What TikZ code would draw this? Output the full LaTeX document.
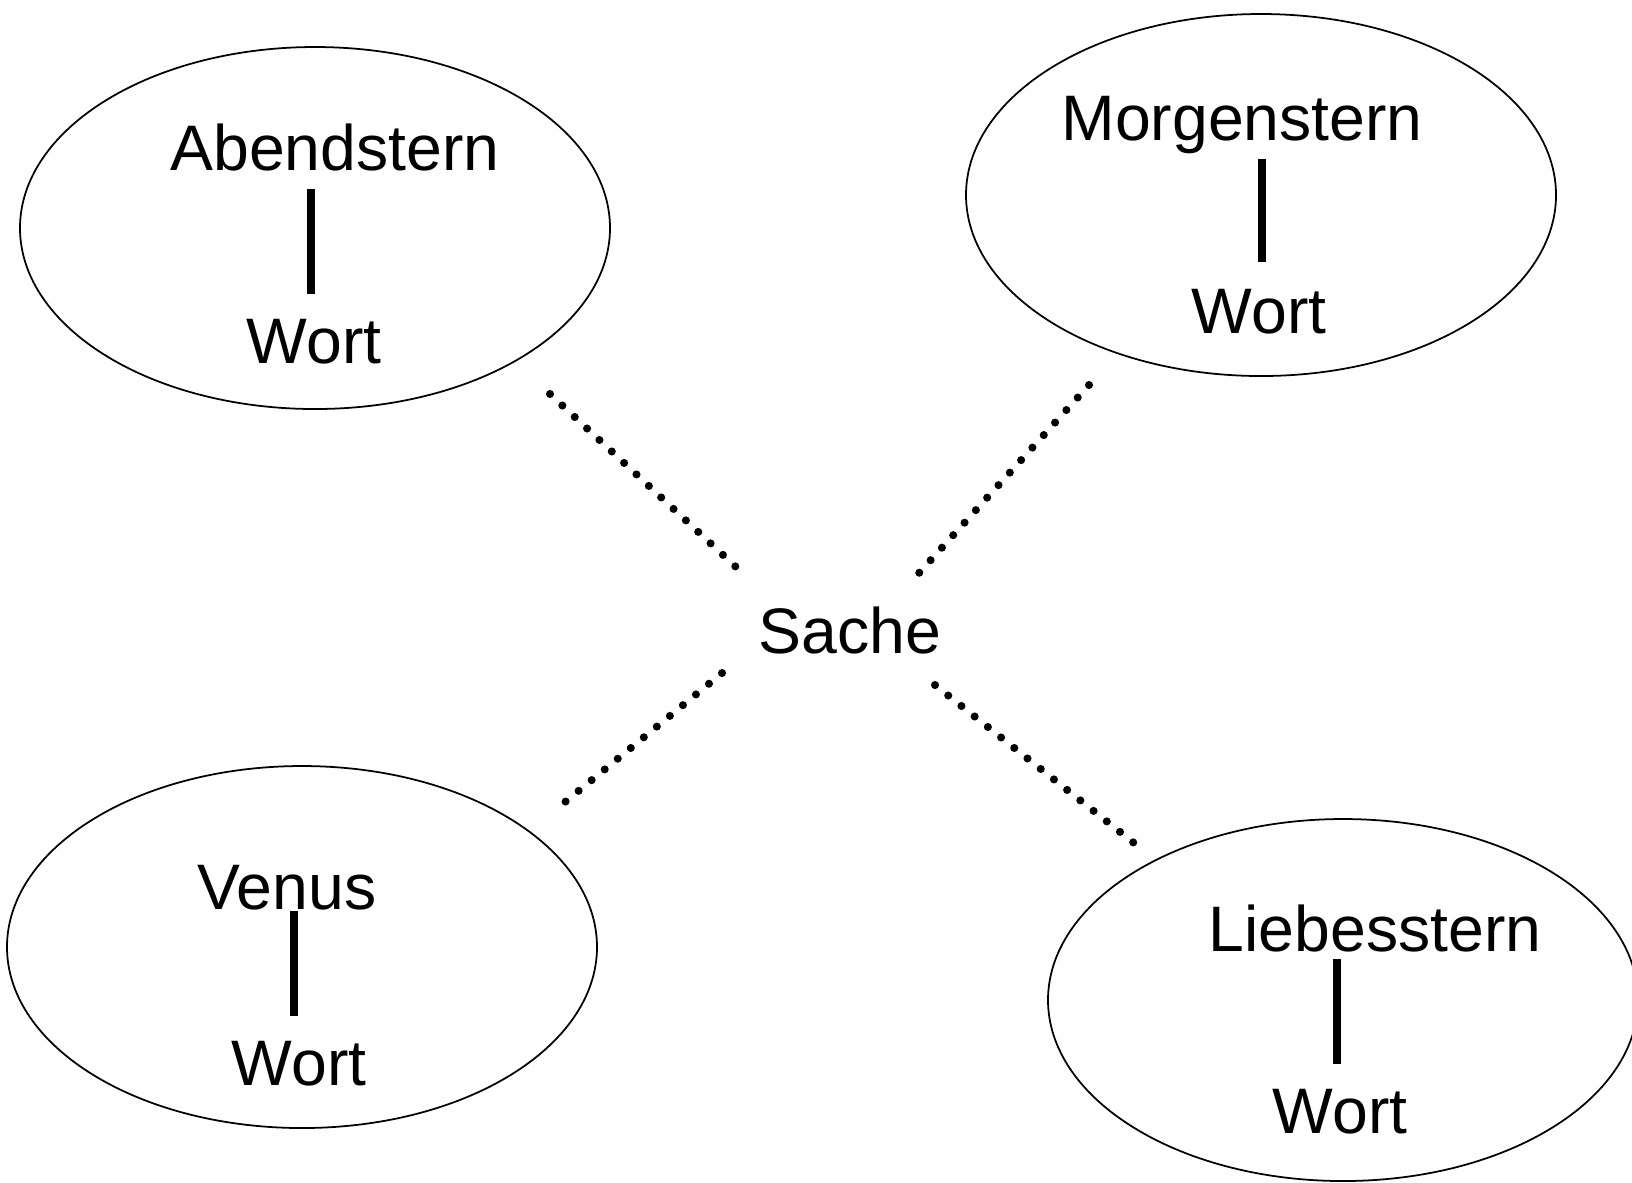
\documentclass[tikz,border=0pt]{standalone}
\usepackage{fontspec}
\setmainfont{Liberation Sans}
\usepackage{tikz}
\usetikzlibrary{shapes.geometric}

\begin{document}
\begin{tikzpicture}[
    stern/.style={ellipse, draw, line width=0.5pt, minimum width=5.9cm, minimum height=3.62cm, inner sep=0pt},
    wort/.style={font=\fontsize{18.3}{22}\selectfont, inner sep=0pt, anchor=base},
    strich/.style={line width=2.3pt},
    punkte/.style={line width=2.3pt, line cap=round, dash pattern=on 0pt off 4.8pt}]
    \useasboundingbox (0,0) rectangle (16.32,-11.82);
    % Ellipsen
    \node[stern] (abend) at (3.15,-2.28) {};
    \node[stern] (morgen) at (12.61,-1.95) {};
    \node[stern] (venus) at (3.02,-9.47) {};
    \node[stern] (liebe) at (13.43,-10.00) {};
    % Texte
    \node[wort] (tA) at (3.35,-1.70) {Abendstern};
    \node[wort] (wA) at (3.14,-3.63) {Wort};
    \node[wort] (tM) at (12.42,-1.40) {Morgenstern};
    \node[wort] (wM) at (12.59,-3.33) {Wort};
    \node[wort] (tV) at (2.87,-9.09) {Venus};
    \node[wort] (wV) at (2.99,-10.85) {Wort};
    \node[wort] (tL) at (13.75,-9.51) {Liebesstern};
    \node[wort] (wL) at (13.40,-11.33) {Wort};
    \node[wort] (sache) at (8.50,-6.53) {Sache};
    % Striche
    \draw[strich] ([xshift=-0.3mm,yshift=2.4mm]wA.north) -- ++(0,1.05);
    \draw[strich] ([xshift=0.3mm,yshift=2.6mm]wM.north) -- ++(0,1.03);
    \draw[strich] ([xshift=-0.5mm,yshift=2.4mm]wV.north) -- ++(0,1.05);
    \draw[strich] ([xshift=-0.3mm,yshift=2.4mm]wL.north) -- ++(0,1.05);
    % Punktlinien
    \coordinate (pA1) at (5.50,-3.94);
    \coordinate (pA2) at (7.36,-5.67);
    \coordinate (pM1) at (10.89,-3.85);
    \coordinate (pM2) at (9.19,-5.73);
    \coordinate (pV1) at (7.22,-6.73);
    \coordinate (pV2) at (5.65,-8.02);
    \coordinate (pL1) at (9.35,-6.85);
    \coordinate (pL2) at (11.34,-8.43);
    \draw[punkte] (pA1) -- (pA2);
    \draw[punkte] (pM1) -- (pM2);
    \draw[punkte] (pV1) -- (pV2);
    \draw[punkte] (pL1) -- (pL2);
\end{tikzpicture}
\end{document}
